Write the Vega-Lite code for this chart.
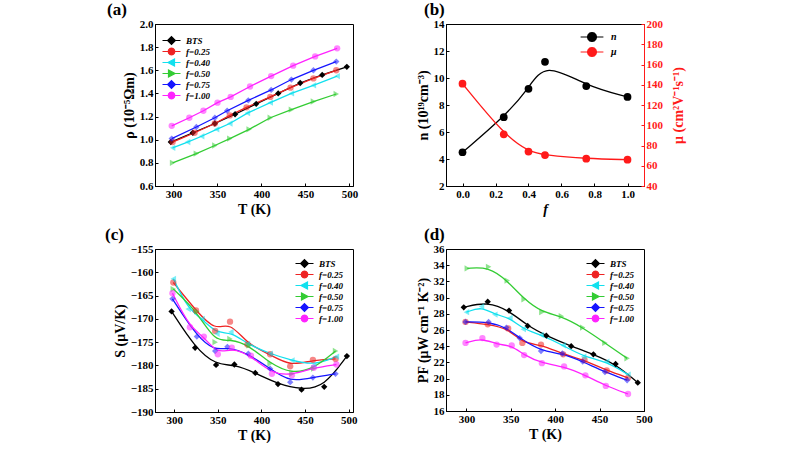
{
  "$schema": "https://vega.github.io/schema/vega-lite/v6.json",
  "background": "white",
  "padding": {"left": 104, "top": 0, "right": 5, "bottom": 0},
  "columns": 2,
  "spacing": {"row": 8, "column": 56},
  "datasets": {
    "rho": [
      {"s":"BTS","T":297,"v":0.98},{"s":"BTS","T":322,"v":1.06},{"s":"BTS","T":347,"v":1.14},{"s":"BTS","T":370,"v":1.22},{"s":"BTS","T":394,"v":1.31},{"s":"BTS","T":419,"v":1.40},{"s":"BTS","T":444,"v":1.49},{"s":"BTS","T":469,"v":1.56},{"s":"BTS","T":497,"v":1.63},
      {"s":"f=0.25","T":299,"v":0.98},{"s":"f=0.25","T":324,"v":1.06},{"s":"f=0.25","T":347,"v":1.14},{"s":"f=0.25","T":364,"v":1.21},{"s":"f=0.25","T":383,"v":1.28},{"s":"f=0.25","T":410,"v":1.37},{"s":"f=0.25","T":433,"v":1.45},{"s":"f=0.25","T":459,"v":1.53},{"s":"f=0.25","T":485,"v":1.60},
      {"s":"f=0.40","T":299,"v":0.93},{"s":"f=0.40","T":316,"v":0.98},{"s":"f=0.40","T":332,"v":1.03},{"s":"f=0.40","T":349,"v":1.09},{"s":"f=0.40","T":364,"v":1.14},{"s":"f=0.40","T":384,"v":1.23},{"s":"f=0.40","T":410,"v":1.32},{"s":"f=0.40","T":434,"v":1.40},{"s":"f=0.40","T":459,"v":1.47},{"s":"f=0.40","T":486,"v":1.55},
      {"s":"f=0.50","T":299,"v":0.80},{"s":"f=0.50","T":326,"v":0.88},{"s":"f=0.50","T":347,"v":0.95},{"s":"f=0.50","T":364,"v":1.01},{"s":"f=0.50","T":386,"v":1.09},{"s":"f=0.50","T":410,"v":1.19},{"s":"f=0.50","T":434,"v":1.26},{"s":"f=0.50","T":459,"v":1.33},{"s":"f=0.50","T":485,"v":1.395},
      {"s":"f=0.75","T":298,"v":1.01},{"s":"f=0.75","T":326,"v":1.11},{"s":"f=0.75","T":347,"v":1.19},{"s":"f=0.75","T":361,"v":1.25},{"s":"f=0.75","T":385,"v":1.34},{"s":"f=0.75","T":411,"v":1.43},{"s":"f=0.75","T":434,"v":1.52},{"s":"f=0.75","T":459,"v":1.60},{"s":"f=0.75","T":485,"v":1.675},
      {"s":"f=1.00","T":298,"v":1.12},{"s":"f=1.00","T":318,"v":1.19},{"s":"f=1.00","T":334,"v":1.25},{"s":"f=1.00","T":350,"v":1.32},{"s":"f=1.00","T":365,"v":1.37},{"s":"f=1.00","T":387,"v":1.46},{"s":"f=1.00","T":411,"v":1.55},{"s":"f=1.00","T":436,"v":1.64},{"s":"f=1.00","T":461,"v":1.72},{"s":"f=1.00","T":486,"v":1.79}
    ],
    "nmu": [
      {"q":"n","f":0.0,"v":4.5},{"q":"n","f":0.25,"v":7.1},{"q":"n","f":0.4,"v":9.2},{"q":"n","f":0.5,"v":11.2},{"q":"n","f":0.75,"v":9.4},{"q":"n","f":1.0,"v":8.6},
      {"q":"μ","f":0.0,"v":141},{"q":"μ","f":0.25,"v":91},{"q":"μ","f":0.4,"v":74},{"q":"μ","f":0.5,"v":70.5},{"q":"μ","f":0.75,"v":67},{"q":"μ","f":1.0,"v":66}
    ],
    "S": [
      {"s":"BTS","T":297,"v":-168.4},{"s":"BTS","T":324,"v":-176.2},{"s":"BTS","T":348,"v":-179.9},{"s":"BTS","T":369,"v":-179.8},{"s":"BTS","T":393,"v":-181.6},{"s":"BTS","T":419,"v":-184.0},{"s":"BTS","T":446,"v":-185.2},{"s":"BTS","T":472,"v":-184.6},{"s":"BTS","T":498,"v":-178.0},
      {"s":"f=0.25","T":299,"v":-162.2},{"s":"f=0.25","T":325,"v":-168.2},{"s":"f=0.25","T":347,"v":-172.6},{"s":"f=0.25","T":364,"v":-170.6},{"s":"f=0.25","T":384,"v":-175.5},{"s":"f=0.25","T":410,"v":-177.6},{"s":"f=0.25","T":433,"v":-180.2},{"s":"f=0.25","T":459,"v":-178.8},{"s":"f=0.25","T":485,"v":-178.6},
      {"s":"f=0.40","T":299,"v":-161.4},{"s":"f=0.40","T":316,"v":-167.9},{"s":"f=0.40","T":332,"v":-170.0},{"s":"f=0.40","T":349,"v":-173.2},{"s":"f=0.40","T":365,"v":-172.8},{"s":"f=0.40","T":384,"v":-175.4},{"s":"f=0.40","T":410,"v":-177.5},{"s":"f=0.40","T":435,"v":-178.9},{"s":"f=0.40","T":460,"v":-180.0},{"s":"f=0.40","T":486,"v":-178.1},
      {"s":"f=0.50","T":299,"v":-163.6},{"s":"f=0.50","T":326,"v":-168.4},{"s":"f=0.50","T":347,"v":-175.0},{"s":"f=0.50","T":364,"v":-174.3},{"s":"f=0.50","T":386,"v":-175.7},{"s":"f=0.50","T":410,"v":-179.6},{"s":"f=0.50","T":435,"v":-181.8},{"s":"f=0.50","T":460,"v":-180.7},{"s":"f=0.50","T":485,"v":-176.9},
      {"s":"f=0.75","T":298,"v":-165.7},{"s":"f=0.75","T":326,"v":-173.8},{"s":"f=0.75","T":347,"v":-176.9},{"s":"f=0.75","T":361,"v":-176.0},{"s":"f=0.75","T":385,"v":-177.5},{"s":"f=0.75","T":410,"v":-180.7},{"s":"f=0.75","T":433,"v":-183.6},{"s":"f=0.75","T":459,"v":-182.6},{"s":"f=0.75","T":485,"v":-181.8},
      {"s":"f=1.00","T":298,"v":-164.5},{"s":"f=1.00","T":318,"v":-171.8},{"s":"f=1.00","T":334,"v":-173.8},{"s":"f=1.00","T":350,"v":-177.6},{"s":"f=1.00","T":366,"v":-176.2},{"s":"f=1.00","T":388,"v":-177.9},{"s":"f=1.00","T":412,"v":-181.8},{"s":"f=1.00","T":435,"v":-182.1},{"s":"f=1.00","T":460,"v":-180.5},{"s":"f=1.00","T":486,"v":-179.8}
    ],
    "PF": [
      {"s":"BTS","T":297,"v":28.8},{"s":"BTS","T":324,"v":29.5},{"s":"BTS","T":348,"v":28.4},{"s":"BTS","T":369,"v":26.5},{"s":"BTS","T":390,"v":25.3},{"s":"BTS","T":418,"v":24.0},{"s":"BTS","T":443,"v":23.0},{"s":"BTS","T":468,"v":21.8},{"s":"BTS","T":493,"v":19.5},
      {"s":"f=0.25","T":299,"v":27.0},{"s":"f=0.25","T":324,"v":26.7},{"s":"f=0.25","T":347,"v":26.2},{"s":"f=0.25","T":363,"v":24.4},{"s":"f=0.25","T":384,"v":24.2},{"s":"f=0.25","T":409,"v":23.0},{"s":"f=0.25","T":433,"v":22.3},{"s":"f=0.25","T":458,"v":21.0},{"s":"f=0.25","T":482,"v":20.1},
      {"s":"f=0.40","T":300,"v":28.2},{"s":"f=0.40","T":317,"v":28.9},{"s":"f=0.40","T":332,"v":27.9},{"s":"f=0.40","T":349,"v":27.5},{"s":"f=0.40","T":364,"v":26.1},{"s":"f=0.40","T":384,"v":25.4},{"s":"f=0.40","T":409,"v":24.1},{"s":"f=0.40","T":432,"v":22.7},{"s":"f=0.40","T":458,"v":22.1},{"s":"f=0.40","T":482,"v":20.5},
      {"s":"f=0.50","T":301,"v":33.6},{"s":"f=0.50","T":325,"v":33.8},{"s":"f=0.50","T":346,"v":32.1},{"s":"f=0.50","T":365,"v":29.8},{"s":"f=0.50","T":385,"v":28.2},{"s":"f=0.50","T":407,"v":27.7},{"s":"f=0.50","T":431,"v":26.3},{"s":"f=0.50","T":456,"v":24.4},{"s":"f=0.50","T":481,"v":22.5},
      {"s":"f=0.75","T":299,"v":27.0},{"s":"f=0.75","T":325,"v":27.0},{"s":"f=0.75","T":345,"v":26.3},{"s":"f=0.75","T":360,"v":25.0},{"s":"f=0.75","T":384,"v":23.4},{"s":"f=0.75","T":408,"v":23.1},{"s":"f=0.75","T":431,"v":22.1},{"s":"f=0.75","T":456,"v":20.8},{"s":"f=0.75","T":481,"v":19.8},
      {"s":"f=1.00","T":299,"v":24.4},{"s":"f=1.00","T":318,"v":25.0},{"s":"f=1.00","T":334,"v":24.2},{"s":"f=1.00","T":351,"v":24.1},{"s":"f=1.00","T":365,"v":22.9},{"s":"f=1.00","T":385,"v":21.9},{"s":"f=1.00","T":410,"v":21.5},{"s":"f=1.00","T":434,"v":20.4},{"s":"f=1.00","T":457,"v":19.1},{"s":"f=1.00","T":482,"v":18.1}
    ]
  },
  "concat": [
    {
      "title": {"text": "(a)", "frame": "group", "dx": -48},
      "width": 198, "height": 162,
      "data": {"name": "rho"},
      "encoding": {
        "x": {"field": "T", "type": "quantitative", "scale": {"domain": [279, 504], "nice": false, "zero": false}, "axis": {"title": "T (K)", "values": [300, 350, 400, 450, 500]}},
        "y": {"field": "v", "type": "quantitative", "scale": {"domain": [0.6, 2.0], "nice": false, "zero": false}, "axis": {"title": "ρ (10⁻⁵Ωm)", "values": [0.6, 0.8, 1.0, 1.2, 1.4, 1.6, 1.8, 2.0], "format": ".1f"}}
      },
      "layer": [
        {"mark": {"type": "line", "strokeWidth": 1.3},
         "encoding": {"color": {"field": "s", "type": "nominal", "scale": {"domain": ["BTS","f=0.25","f=0.40","f=0.50","f=0.75","f=1.00"], "range": ["#000000","#ee2222","#11e0ee","#33cc33","#1515ff","#ff22ff"]}, "legend": {"orient": "top-left", "title": null, "offset": 10}}}},
        {"mark": {"type": "point", "filled": true, "size": 40, "opacity": 1},
         "encoding": {
           "color": {"field": "s", "type": "nominal", "legend": {"orient": "top-left", "title": null, "offset": 10}},
           "shape": {"condition": [{"test": "datum.s == 'BTS' || datum.s == 'f=0.75'", "value": "diamond"}, {"test": "datum.s == 'f=0.40'", "value": "triangle-left"}, {"test": "datum.s == 'f=0.50'", "value": "triangle-right"}], "value": "circle"},
           "fillOpacity": {"condition": {"test": "datum.s == 'BTS'", "value": 1}, "value": 0.55}
         }},
        {"mark": {"type": "point", "filled": true, "size": 36, "opacity": 0},
         "encoding": {
           "fill": {"field": "s", "type": "nominal", "scale": {"domain": ["BTS","f=0.25","f=0.40","f=0.50","f=0.75","f=1.00"], "range": ["#000000","#ee2222","#11e0ee","#33cc33","#1515ff","#ff22ff"]}, "legend": {"orient": "top-left", "title": null, "offset": 10}},
           "stroke": {"field": "s", "type": "nominal", "scale": {"domain": ["BTS","f=0.25","f=0.40","f=0.50","f=0.75","f=1.00"], "range": ["#000000","#ee2222","#11e0ee","#33cc33","#1515ff","#ff22ff"]}, "legend": {"orient": "top-left", "title": null, "offset": 10}},
           "shape": {"field": "s", "type": "nominal", "scale": {"domain": ["BTS","f=0.25","f=0.40","f=0.50","f=0.75","f=1.00"], "range": ["M-3,0H-1.3M1.3,0H3M0,-1.3L1.3,0L0,1.3L-1.3,0Z","M-3,0H-1.1M1.1,0H3M1.1,0L0.95,0.55L0.55,0.95L0,1.1L-0.55,0.95L-0.95,0.55L-1.1,0L-0.95,-0.55L-0.55,-0.95L0,-1.1L0.55,-0.95L0.95,-0.55Z","M-3,0H-1.2M1,0H3M-1.2,0L1,-1.2L1,1.2Z","M-3,0H-1M1.2,0H3M1.2,0L-1,-1.2L-1,1.2Z","M-3,0H-1.3M1.3,0H3M0,-1.3L1.3,0L0,1.3L-1.3,0Z","M-3,0H-1.1M1.1,0H3M1.1,0L0.95,0.55L0.55,0.95L0,1.1L-0.55,0.95L-0.95,0.55L-1.1,0L-0.95,-0.55L-0.55,-0.95L0,-1.1L0.55,-0.95L0.95,-0.55Z"]}, "legend": {"orient": "top-left", "title": null, "offset": 10}}
         }}
      ]
    },
    {
      "title": {"text": "(b)", "frame": "group", "dx": -22},
      "width": 198, "height": 162,
      "data": {"name": "nmu"},
      "encoding": {
        "x": {"field": "f", "type": "quantitative", "scale": {"domain": [-0.1, 1.1], "nice": false, "zero": false}, "axis": {"title": "f", "titleFontStyle": "italic", "values": [0, 0.2, 0.4, 0.6, 0.8, 1.0], "format": ".1f"}}
      },
      "layer": [
        {
          "transform": [{"filter": "datum.q == 'n'"}],
          "encoding": {
            "y": {"field": "v", "type": "quantitative", "scale": {"domain": [2, 14], "nice": false, "zero": false}, "axis": {"title": "n (10¹⁹cm⁻³)", "values": [2, 4, 6, 8, 10, 12, 14]}},
            "color": {"field": "q", "type": "nominal", "scale": {"domain": ["n", "μ"], "range": ["#000000", "#ff1a1a"]}, "legend": {"orient": "none", "legendX": 139, "legendY": 6, "title": null, "labelOffset": 14, "rowPadding": 1, "labelFontSize": 10}}
          },
          "layer": [
            {"mark": {"type": "line", "interpolate": "basis", "strokeWidth": 1.3}, "encoding": {}},
            {"mark": {"type": "point", "shape": "circle", "filled": true, "size": 60, "opacity": 1}, "encoding": {}}
          ]
        },
        {
          "transform": [{"filter": "datum.q == 'μ'"}],
          "encoding": {
            "y": {"field": "v", "type": "quantitative", "scale": {"domain": [40, 200], "nice": false, "zero": false}, "axis": {"orient": "right", "title": "μ (cm²V⁻¹s⁻¹)", "titleAngle": 270, "titleX": 34, "titleY": 81, "titleAlign": "center", "titleBaseline": "middle", "titleColor": "#ff1a1a", "labelColor": "#ff1a1a", "domainColor": "#ff1a1a", "tickColor": "#ff1a1a", "values": [40, 60, 80, 100, 120, 140, 160, 180, 200]}},
            "color": {"field": "q", "type": "nominal", "legend": {"orient": "none", "legendX": 139, "legendY": 6, "title": null, "labelOffset": 14, "rowPadding": 1, "labelFontSize": 10}}
          },
          "layer": [
            {"mark": {"type": "line", "interpolate": "basis", "strokeWidth": 1.3}, "encoding": {}},
            {"mark": {"type": "point", "shape": "circle", "filled": true, "size": 60, "opacity": 1}, "encoding": {}}
          ]
        },
        {
          "mark": {"type": "point", "filled": true, "size": 36, "opacity": 0},
          "encoding": {
            "fill": {"field": "q", "type": "nominal", "scale": {"domain": ["n", "μ"], "range": ["#000000", "#ff1a1a"]}, "legend": {"orient": "none", "legendX": 139, "legendY": 6, "title": null, "labelOffset": 14, "rowPadding": 1, "labelFontSize": 10}},
            "stroke": {"field": "q", "type": "nominal", "scale": {"domain": ["n", "μ"], "range": ["#000000", "#ff1a1a"]}, "legend": {"orient": "none", "legendX": 139, "legendY": 6, "title": null, "labelOffset": 14, "rowPadding": 1, "labelFontSize": 10}},
            "shape": {"field": "q", "type": "nominal", "scale": {"domain": ["n", "μ"], "range": ["M-3.8,0H-1.5M1.5,0H3.8M1.5,0L1.3,0.75L0.75,1.3L0,1.5L-0.75,1.3L-1.3,0.75L-1.5,0L-1.3,-0.75L-0.75,-1.3L0,-1.5L0.75,-1.3L1.3,-0.75Z", "M-3.8,0H-1.5M1.5,0H3.8M1.5,0L1.3,0.75L0.75,1.3L0,1.5L-0.75,1.3L-1.3,0.75L-1.5,0L-1.3,-0.75L-0.75,-1.3L0,-1.5L0.75,-1.3L1.3,-0.75Z"]}, "legend": {"orient": "none", "legendX": 139, "legendY": 6, "title": null, "labelOffset": 14, "rowPadding": 1, "labelFontSize": 10}}
          }
        }
      ],
      "resolve": {"scale": {"y": "independent"}}
    },
    {
      "title": {"text": "(c)", "frame": "group", "dx": -50},
      "width": 198, "height": 163,
      "data": {"name": "S"},
      "encoding": {
        "x": {"field": "T", "type": "quantitative", "scale": {"domain": [278, 505], "nice": false, "zero": false}, "axis": {"title": "T (K)", "values": [300, 350, 400, 450, 500]}},
        "y": {"field": "v", "type": "quantitative", "scale": {"domain": [-190, -155], "nice": false, "zero": false}, "axis": {"title": "S (μV/K)", "values": [-190, -185, -180, -175, -170, -165, -160, -155]}}
      },
      "layer": [
        {"mark": {"type": "line", "interpolate": "basis", "strokeWidth": 1.3},
         "encoding": {"color": {"field": "s", "type": "nominal", "scale": {"domain": ["BTS","f=0.25","f=0.40","f=0.50","f=0.75","f=1.00"], "range": ["#000000","#ee2222","#11e0ee","#33cc33","#1515ff","#ff22ff"]}, "legend": {"orient": "top-right", "title": null, "offset": 8}}}},
        {"mark": {"type": "point", "filled": true, "size": 40, "opacity": 1},
         "encoding": {
           "color": {"field": "s", "type": "nominal", "legend": {"orient": "top-right", "title": null, "offset": 8}},
           "shape": {"condition": [{"test": "datum.s == 'BTS' || datum.s == 'f=0.75'", "value": "diamond"}, {"test": "datum.s == 'f=0.40'", "value": "triangle-left"}, {"test": "datum.s == 'f=0.50'", "value": "triangle-right"}], "value": "circle"},
           "fillOpacity": {"condition": {"test": "datum.s == 'BTS'", "value": 1}, "value": 0.55}
         }},
        {"mark": {"type": "point", "filled": true, "size": 36, "opacity": 0},
         "encoding": {
           "fill": {"field": "s", "type": "nominal", "scale": {"domain": ["BTS","f=0.25","f=0.40","f=0.50","f=0.75","f=1.00"], "range": ["#000000","#ee2222","#11e0ee","#33cc33","#1515ff","#ff22ff"]}, "legend": {"orient": "top-right", "title": null, "offset": 8}},
           "stroke": {"field": "s", "type": "nominal", "scale": {"domain": ["BTS","f=0.25","f=0.40","f=0.50","f=0.75","f=1.00"], "range": ["#000000","#ee2222","#11e0ee","#33cc33","#1515ff","#ff22ff"]}, "legend": {"orient": "top-right", "title": null, "offset": 8}},
           "shape": {"field": "s", "type": "nominal", "scale": {"domain": ["BTS","f=0.25","f=0.40","f=0.50","f=0.75","f=1.00"], "range": ["M-3,0H-1.3M1.3,0H3M0,-1.3L1.3,0L0,1.3L-1.3,0Z","M-3,0H-1.1M1.1,0H3M1.1,0L0.95,0.55L0.55,0.95L0,1.1L-0.55,0.95L-0.95,0.55L-1.1,0L-0.95,-0.55L-0.55,-0.95L0,-1.1L0.55,-0.95L0.95,-0.55Z","M-3,0H-1.2M1,0H3M-1.2,0L1,-1.2L1,1.2Z","M-3,0H-1M1.2,0H3M1.2,0L-1,-1.2L-1,1.2Z","M-3,0H-1.3M1.3,0H3M0,-1.3L1.3,0L0,1.3L-1.3,0Z","M-3,0H-1.1M1.1,0H3M1.1,0L0.95,0.55L0.55,0.95L0,1.1L-0.55,0.95L-0.95,0.55L-1.1,0L-0.95,-0.55L-0.55,-0.95L0,-1.1L0.55,-0.95L0.95,-0.55Z"]}, "legend": {"orient": "top-right", "title": null, "offset": 8}}
         }}
      ]
    },
    {
      "title": {"text": "(d)", "frame": "group", "dx": -22},
      "width": 198, "height": 162,
      "data": {"name": "PF"},
      "encoding": {
        "x": {"field": "T", "type": "quantitative", "scale": {"domain": [277, 500], "nice": false, "zero": false}, "axis": {"title": "T (K)", "values": [300, 350, 400, 450, 500]}},
        "y": {"field": "v", "type": "quantitative", "scale": {"domain": [16, 36], "nice": false, "zero": false}, "axis": {"title": "PF (μW cm⁻¹ K⁻²)", "values": [16, 18, 20, 22, 24, 26, 28, 30, 32, 34, 36]}}
      },
      "layer": [
        {"mark": {"type": "line", "interpolate": "basis", "strokeWidth": 1.3},
         "encoding": {"color": {"field": "s", "type": "nominal", "scale": {"domain": ["BTS","f=0.25","f=0.40","f=0.50","f=0.75","f=1.00"], "range": ["#000000","#ee2222","#11e0ee","#33cc33","#1515ff","#ff22ff"]}, "legend": {"orient": "top-right", "title": null, "offset": 8}}}},
        {"mark": {"type": "point", "filled": true, "size": 40, "opacity": 1},
         "encoding": {
           "color": {"field": "s", "type": "nominal", "legend": {"orient": "top-right", "title": null, "offset": 8}},
           "shape": {"condition": [{"test": "datum.s == 'BTS' || datum.s == 'f=0.75'", "value": "diamond"}, {"test": "datum.s == 'f=0.40'", "value": "triangle-left"}, {"test": "datum.s == 'f=0.50'", "value": "triangle-right"}], "value": "circle"},
           "fillOpacity": {"condition": {"test": "datum.s == 'BTS'", "value": 1}, "value": 0.55}
         }},
        {"mark": {"type": "point", "filled": true, "size": 36, "opacity": 0},
         "encoding": {
           "fill": {"field": "s", "type": "nominal", "scale": {"domain": ["BTS","f=0.25","f=0.40","f=0.50","f=0.75","f=1.00"], "range": ["#000000","#ee2222","#11e0ee","#33cc33","#1515ff","#ff22ff"]}, "legend": {"orient": "top-right", "title": null, "offset": 8}},
           "stroke": {"field": "s", "type": "nominal", "scale": {"domain": ["BTS","f=0.25","f=0.40","f=0.50","f=0.75","f=1.00"], "range": ["#000000","#ee2222","#11e0ee","#33cc33","#1515ff","#ff22ff"]}, "legend": {"orient": "top-right", "title": null, "offset": 8}},
           "shape": {"field": "s", "type": "nominal", "scale": {"domain": ["BTS","f=0.25","f=0.40","f=0.50","f=0.75","f=1.00"], "range": ["M-3,0H-1.3M1.3,0H3M0,-1.3L1.3,0L0,1.3L-1.3,0Z","M-3,0H-1.1M1.1,0H3M1.1,0L0.95,0.55L0.55,0.95L0,1.1L-0.55,0.95L-0.95,0.55L-1.1,0L-0.95,-0.55L-0.55,-0.95L0,-1.1L0.55,-0.95L0.95,-0.55Z","M-3,0H-1.2M1,0H3M-1.2,0L1,-1.2L1,1.2Z","M-3,0H-1M1.2,0H3M1.2,0L-1,-1.2L-1,1.2Z","M-3,0H-1.3M1.3,0H3M0,-1.3L1.3,0L0,1.3L-1.3,0Z","M-3,0H-1.1M1.1,0H3M1.1,0L0.95,0.55L0.55,0.95L0,1.1L-0.55,0.95L-0.95,0.55L-1.1,0L-0.95,-0.55L-0.55,-0.95L0,-1.1L0.55,-0.95L0.95,-0.55Z"]}, "legend": {"orient": "top-right", "title": null, "offset": 8}}
         }}
      ]
    }
  ],
  "resolve": {"scale": {"color": "independent", "shape": "independent", "fill": "independent", "stroke": "independent"}},
  "config": {
    "font": "Liberation Serif",
    "view": {"stroke": "#000000", "strokeWidth": 1},
    "axis": {"grid": false, "labelFont": "Liberation Serif", "labelFontWeight": "bold", "labelFontSize": 11, "labelColor": "#000000", "labelFlush": false, "labelOverlap": false, "labelPadding": 5, "titleFont": "Liberation Serif", "titleFontWeight": "bold", "titleFontSize": 14, "titleColor": "#000000", "titlePadding": 3, "domainColor": "#000000", "tickColor": "#000000", "tickSize": -3},
    "legend": {"labelFont": "Liberation Serif", "labelFontStyle": "italic", "labelFontWeight": "bold", "labelFontSize": 9, "labelColor": "#000000", "labelOffset": 10, "symbolSize": 36, "symbolStrokeWidth": 1.2, "symbolOpacity": 1, "rowPadding": -2.5, "padding": 2},
    "title": {"font": "Liberation Serif", "fontSize": 17, "fontWeight": "bold", "color": "#000000", "anchor": "start", "offset": -1}
  }
}
